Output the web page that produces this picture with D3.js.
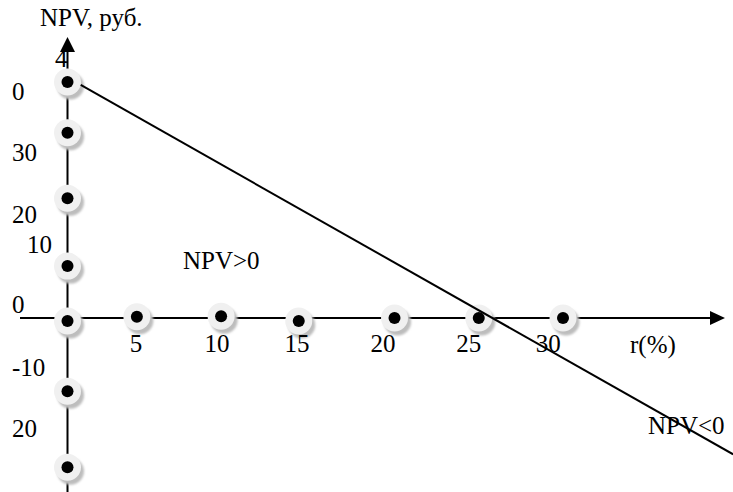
<!DOCTYPE html>
<html>
<head>
<meta charset="utf-8">
<script src="https://cdn.jsdelivr.net/npm/d3@7"></script>
<style>
  html, body { margin: 0; padding: 0; background: #fff; }
  svg { display: block; }
  text { font-family: "Liberation Serif", "Times New Roman", serif; font-size: 25px; fill: #000; }
</style>
</head>
<body>
<script>
// Discount rate r (%) and NPV values
const axisDotsR   = [0, 4.2, 9.3, 14.0, 19.8, 24.9, 30.0];   // points on the r axis
const axisDotsNPV = [-0.5, 0.2, 0.3, -0.5, 0, 0, 0];
const npvAxisDots = [40, 31.4, 20.3, 8.8, -12.4, -25.3];    // points on the NPV axis (r = 0)

const npvLineR   = [0.8, 40.3];                              // NPV(r) line
const npvLineNPV = [39.5, -23.1];

const xTickLabels = ["5", "10", "15", "20", "25", "30"];
const xTickAt     = [4.15, 9.05, 13.9, 19.1, 24.3, 29.1];
const yTickLabels = ["4", "0", "30", "20", "10", "0", "-10", "20"];
const yTickAt     = [42.5, 36.9, 26.6, 16.1, 11.0, 0.85, -9.8, -20.2];

const W = 733, H = 492;
const x = d3.scaleLinear().domain([0, 30]).range([67.5, 563]);
const y = d3.scaleLinear().domain([0, 40]).range([318, 82]);

const svg = d3.select("body").append("svg").attr("width", W).attr("height", H);

const defs = svg.append("defs");
defs.append("filter").attr("id", "soft").attr("x", "-50%").attr("y", "-50%")
  .attr("width", "200%").attr("height", "200%")
  .append("feGaussianBlur").attr("stdDeviation", 1.2);

// axes with arrows
const rMin = x.invert(20), rMax = x.invert(725);
const nMin = y.invert(H), nMax = y.invert(37);

svg.append("line")
  .attr("x1", x(rMin)).attr("x2", x(rMax) - 12)
  .attr("y1", y(0)).attr("y2", y(0))
  .attr("stroke", "#000").attr("stroke-width", 2);
svg.append("path")
  .attr("d", `M${x(rMax)},${y(0)} L${x(rMax) - 15},${y(0) - 7} L${x(rMax) - 15},${y(0) + 7} Z`)
  .attr("fill", "#000");

svg.append("line")
  .attr("x1", x(0)).attr("x2", x(0))
  .attr("y1", y(nMin)).attr("y2", y(nMax) + 12)
  .attr("stroke", "#000").attr("stroke-width", 2);
svg.append("path")
  .attr("d", `M${x(0)},${y(nMax)} L${x(0) - 7.5},${y(nMax) + 15} L${x(0) + 7.5},${y(nMax) + 15} Z`)
  .attr("fill", "#000");

// markers
const pts = axisDotsR.map((r, i) => ({ r, v: axisDotsNPV[i] }))
  .concat(npvAxisDots.map(v => ({ r: 0, v })));

const g = svg.append("g").selectAll("g").data(pts).join("g")
  .attr("transform", d => `translate(${x(d.r)},${y(d.v)})`);
g.append("circle").attr("cx", 3).attr("cy", 4).attr("r", 13.5)
  .attr("fill", "#bdbdbd").attr("filter", "url(#soft)");
g.append("circle").attr("r", 13.5).attr("fill", "#f0f0f0");
g.append("circle").attr("r", 6).attr("fill", "#000");

// NPV line
svg.append("path")
  .datum(npvLineR.map((r, i) => [r, npvLineNPV[i]]))
  .attr("d", d3.line().x(d => x(d[0])).y(d => y(d[1])))
  .attr("fill", "none").attr("stroke", "#000").attr("stroke-width", 2);

// r axis labels
svg.append("g").selectAll("text").data(xTickLabels).join("text")
  .attr("x", (d, i) => x(xTickAt[i])).attr("y", 352)
  .attr("text-anchor", "middle").text(d => d);

// NPV axis labels
const yLabelLeft = [55, 12, 12, 12, 27, 12, 12, 12];
svg.append("g").selectAll("text").data(yTickLabels).join("text")
  .attr("x", (d, i) => yLabelLeft[i]).attr("y", (d, i) => y(yTickAt[i]))
  .text(d => d);

// titles and region labels
svg.append("text").attr("x", 40).attr("y", 26).text("NPV, руб.");
svg.append("text").attr("x", 630).attr("y", 353).text("r(%)");
svg.append("text").attr("x", 183).attr("y", 269).text("NPV>0");
svg.append("text").attr("x", 648).attr("y", 434).text("NPV<0");
</script>
</body>
</html>
